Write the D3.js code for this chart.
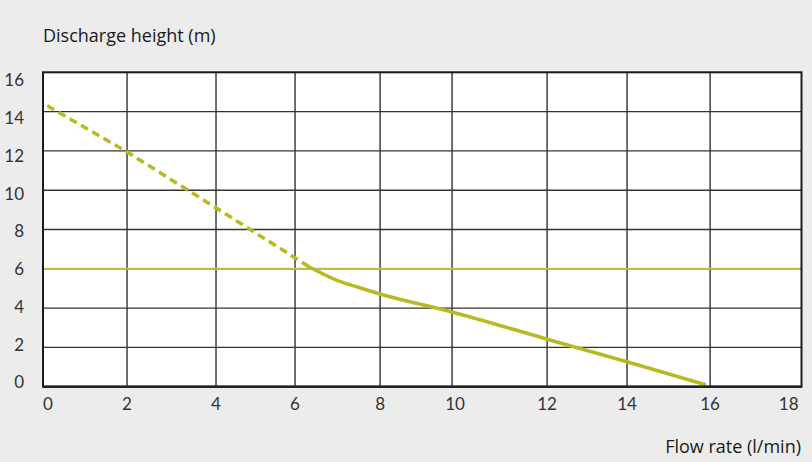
<!DOCTYPE html>
<html>
<head>
<meta charset="utf-8">
<script src="https://cdn.jsdelivr.net/npm/d3@7"></script>
<style>
  html, body { margin: 0; padding: 0; background: #ececec; }
  svg { display: block; }
</style>
</head>
<body>
<svg id="chart" width="812" height="462"></svg>
<script>
// ---- data ----
const xTicks = [0, 2, 4, 6, 8, 10, 12, 14, 16, 18];
const yTicks = [0, 2, 4, 6, 8, 10, 12, 14, 16];
const limitHeight = 6;
// extrapolated (dashed) part of the pump curve: [flow l/min, height m]
const dashedFlow = [0.1, 2, 4, 6.35];
const dashedHeight = [14.3, 11.95, 9.1, 6.08];
// operating (solid) part of the pump curve
const solidFlow = [6.35, 7.0, 7.5, 8, 10, 12, 14, 15.86];
const solidHeight = [6.08, 5.4, 5.05, 4.72, 3.8, 2.42, 1.27, 0.12];
const yTitle = "Discharge height (m)";
const xTitle = "Flow rate (l/min)";

// ---- layout ----
const W = 812, H = 462;
const plot = { left: 43, right: 801.5, top: 72.3, bottom: 386.7 };
// the source chart's grid columns are slightly uneven: relative stop positions
const xStopFrac = [0, 0.1108, 0.2281, 0.3323, 0.4444, 0.5393, 0.6646, 0.7700, 0.8795, 1];

const svg = d3.select("#chart");
const pw = plot.right - plot.left;
const x = d3.scaleLinear()
  .domain(xTicks)
  .range(xStopFrac.map(f => plot.left + f * pw));
const y = d3.scaleLinear().domain([0, 16]).range([plot.bottom, plot.top]);
const yLab = d3.scaleLinear().domain([0, 16]).range([plot.bottom - 4.5, plot.top + 8]);

const font = "Lato, 'Open Sans', sans-serif";
const titleFont = "'Open Sans', 'Noto Sans', sans-serif";
const curveColor = "#b9b926";

// plot background
svg.append("rect")
  .attr("x", plot.left).attr("y", plot.top)
  .attr("width", pw).attr("height", plot.bottom - plot.top)
  .attr("fill", "#ffffff");

// grid
const grid = svg.append("g");
grid.selectAll("line.v").data(xTicks.slice(1, -1)).join("line")
  .attr("x1", d => x(d)).attr("x2", d => x(d))
  .attr("y1", plot.top).attr("y2", plot.bottom)
  .attr("stroke", "#333").attr("stroke-width", 1.4);
grid.selectAll("line.h").data(yTicks.slice(1, -1)).join("line")
  .attr("x1", plot.left).attr("x2", plot.right)
  .attr("y1", d => y(d)).attr("y2", d => y(d))
  .attr("stroke", "#333").attr("stroke-width", 1.4);

// limit line at 6 m
svg.append("line")
  .attr("x1", plot.left).attr("x2", plot.right)
  .attr("y1", y(limitHeight)).attr("y2", y(limitHeight))
  .attr("stroke", "#c2c24a").attr("stroke-width", 2);

// curves
const line = d3.line().x(d => x(d[0])).y(d => y(d[1]));
svg.append("path")
  .datum(d3.zip(dashedFlow, dashedHeight))
  .attr("d", line.curve(d3.curveLinear))
  .attr("fill", "none").attr("stroke", curveColor)
  .attr("stroke-width", 3.6).attr("stroke-dasharray", "8,5");
svg.append("path")
  .datum(d3.zip(solidFlow, solidHeight))
  .attr("d", line.curve(d3.curveMonotoneX))
  .attr("fill", "none").attr("stroke", curveColor)
  .attr("stroke-width", 3.6).attr("stroke-linecap", "round");

// frame
svg.append("rect")
  .attr("x", plot.left).attr("y", plot.top)
  .attr("width", pw).attr("height", plot.bottom - plot.top)
  .attr("fill", "none").attr("stroke", "#1a1a1a").attr("stroke-width", 2);
svg.append("line")
  .attr("x1", plot.left).attr("x2", plot.right)
  .attr("y1", plot.bottom).attr("y2", plot.bottom)
  .attr("stroke", "#222").attr("stroke-width", 2.6);

// y tick labels
svg.append("g").selectAll("text").data(yTicks).join("text")
  .attr("x", 24).attr("y", d => yLab(d))
  .attr("dy", "0.36em")
  .attr("text-anchor", "end")
  .attr("font-family", font).attr("font-size", 17)
  .attr("fill", "#333")
  .text(d => d);

// x tick labels
svg.append("g").selectAll("text").data(xTicks).join("text")
  .attr("x", (d, i) => i === 0 ? x(d) : (i === xTicks.length - 1 ? x(d) - 3 : x(d) + (d === 10 ? 3 : 0)))
  .attr("y", 409.5)
  .attr("text-anchor", (d, i) => i === 0 ? "start" : (i === xTicks.length - 1 ? "end" : "middle"))
  .attr("font-family", font).attr("font-size", 17)
  .attr("fill", "#333")
  .text(d => d);

// axis titles
svg.append("text")
  .attr("x", 43).attr("y", 42)
  .attr("font-family", titleFont).attr("font-size", 18)
  .attr("fill", "#1a1a1a")
  .text(yTitle);
svg.append("text")
  .attr("x", 801).attr("y", 453)
  .attr("text-anchor", "end")
  .attr("font-family", titleFont).attr("font-size", 18)
  .attr("fill", "#1a1a1a")
  .text(xTitle);
</script>
</body>
</html>
